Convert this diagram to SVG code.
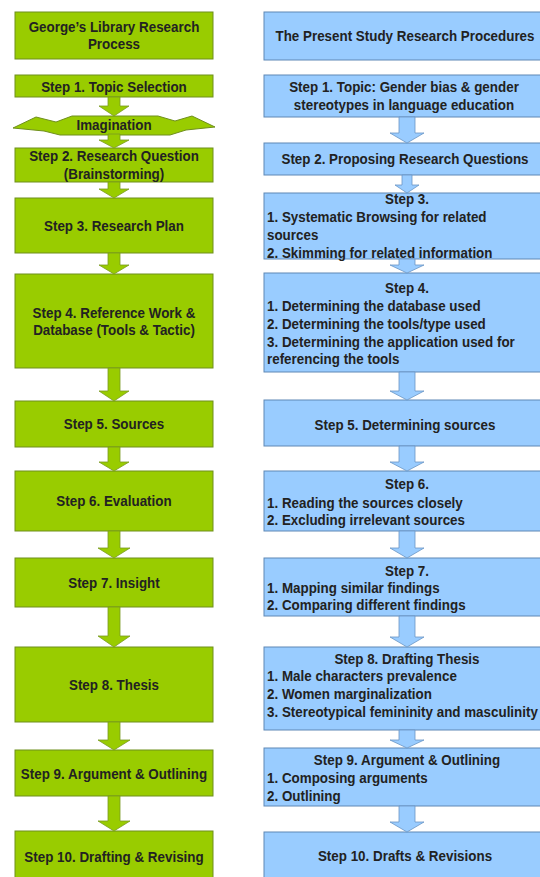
<svg xmlns="http://www.w3.org/2000/svg" width="540" height="877" viewBox="0 0 540 877">
<style>
.g{fill:#99cc00;stroke:#6f8f1c;stroke-width:1}
.b{fill:#99ccff;stroke:#5f88b5;stroke-width:1}
.ga{fill:#99cc00;stroke:#7a9a22;stroke-width:0.8}
.ba{fill:#99ccff;stroke:#6a95c4;stroke-width:0.8}
text{font-family:"Liberation Sans",Arial,sans-serif;font-weight:bold;font-size:13.4px;fill:#222;transform-box:fill-box;transform-origin:center;transform:scaleY(1.12)}
.c{text-anchor:middle}
</style>
<rect width="540" height="877" fill="#ffffff"/>
<g id="left-title"><rect class="g" x="15" y="12" width="198" height="47"/><text class="c" x="114" y="31">George’s Library Research</text><text class="c" x="114" y="48">Process</text></g>
<g id="left-step1"><rect class="g" x="15" y="75" width="198" height="22"/><text class="c" x="114" y="91">Step 1. Topic Selection</text></g>
<g id="imagination"><polygon class="g" points="13,128 36,117 56,122 72,116 158,116 175,121 192,116 215,127 186,130 170,135 60,135 44,131"/><text class="c" x="114" y="129">Imagination</text></g>
<g id="left-step2"><rect class="g" x="15" y="148" width="198" height="34"/><text class="c" x="114" y="160">Step 2. Research Question</text><text class="c" x="114" y="178">(Brainstorming)</text></g>
<g id="left-step3"><rect class="g" x="15" y="198" width="198" height="55"/><text class="c" x="114" y="230">Step 3. Research Plan</text></g>
<g id="left-step4"><rect class="g" x="15" y="274" width="198" height="94"/><text class="c" x="114" y="317">Step 4. Reference Work &amp;</text><text class="c" x="114" y="334">Database (Tools &amp; Tactic)</text></g>
<g id="left-step5"><rect class="g" x="15" y="401" width="198" height="46"/><text class="c" x="114" y="428">Step 5. Sources</text></g>
<g id="left-step6"><rect class="g" x="15" y="471" width="198" height="60"/><text class="c" x="114" y="505">Step 6. Evaluation</text></g>
<g id="left-step7"><rect class="g" x="15" y="558" width="198" height="49"/><text class="c" x="114" y="587">Step 7. Insight</text></g>
<g id="left-step8"><rect class="g" x="15" y="647" width="198" height="75"/><text class="c" x="114" y="689">Step 8. Thesis</text></g>
<g id="left-step9"><rect class="g" x="15" y="750" width="198" height="46"/><text class="c" x="114" y="778">Step 9. Argument &amp; Outlining</text></g>
<g id="left-step10"><rect class="g" x="15" y="831" width="198" height="56"/><text class="c" x="114" y="861">Step 10. Drafting &amp; Revising</text></g>

<g id="right-title"><rect class="b" x="264" y="12" width="290" height="48"/><text class="c" x="405" y="40">The Present Study Research Procedures</text></g>
<g id="right-step1"><rect class="b" x="264" y="75" width="290" height="42"/><text class="c" x="404" y="91">Step 1. Topic: Gender bias &amp; gender</text><text class="c" x="404" y="109">stereotypes in language education</text></g>
<g id="right-step2"><rect class="b" x="264" y="143" width="290" height="32"/><text class="c" x="405" y="163">Step 2. Proposing Research Questions</text></g>
<g id="right-step3"><rect class="b" x="264" y="193" width="290" height="66"/><text class="c" x="407" y="203">Step 3.</text><text x="267" y="221">1. Systematic Browsing for related</text><text x="267" y="239">sources</text><text x="267" y="257">2. Skimming for related information</text></g>
<g id="right-step4"><rect class="b" x="264" y="273" width="290" height="99"/><text class="c" x="407" y="292">Step 4.</text><text x="267" y="310">1. Determining the database used</text><text x="267" y="328">2. Determining the tools/type used</text><text x="267" y="346">3. Determining the application used for</text><text x="267" y="363">referencing the tools</text></g>
<g id="right-step5"><rect class="b" x="264" y="400" width="290" height="46"/><text class="c" x="405" y="429">Step 5. Determining sources</text></g>
<g id="right-step6"><rect class="b" x="264" y="471" width="290" height="60"/><text class="c" x="407" y="488">Step 6.</text><text x="267" y="507">1. Reading the sources closely</text><text x="267" y="524">2. Excluding irrelevant sources</text></g>
<g id="right-step7"><rect class="b" x="264" y="558" width="290" height="58"/><text class="c" x="407" y="575">Step 7.</text><text x="267" y="592">1. Mapping similar findings</text><text x="267" y="609">2. Comparing different findings</text></g>
<g id="right-step8"><rect class="b" x="264" y="647" width="290" height="83"/><text class="c" x="407" y="663">Step 8. Drafting Thesis</text><text x="267" y="680">1. Male characters prevalence</text><text x="267" y="698">2. Women marginalization</text><text x="267" y="716">3. Stereotypical femininity and masculinity</text></g>
<g id="right-step9"><rect class="b" x="264" y="748" width="290" height="58"/><text class="c" x="407" y="764">Step 9. Argument &amp; Outlining</text><text x="267" y="782">1. Composing arguments</text><text x="267" y="800">2. Outlining</text></g>
<g id="right-step10"><rect class="b" x="264" y="832" width="290" height="56"/><text class="c" x="405" y="860">Step 10. Drafts &amp; Revisions</text></g>

<g id="connectors">
<polygon class="ga" points="108,97 120,97 120,106 129,106 114,116 99,106 108,106"/>
<polygon class="ga" points="108,134 120,134 120,140 129,140 114,148 99,140 108,140"/>
<polygon class="ga" points="108,182 120,182 120,189 129,189 114,198 99,189 108,189"/>
<polygon class="ga" points="108,253 120,253 120,265 129,265 114,274 99,265 108,265"/>
<polygon class="ga" points="108,368 120,368 120,391 129,391 114,401 99,391 108,391"/>
<polygon class="ga" points="108,447 120,447 120,462 129,462 114,471 99,462 108,462"/>
<polygon class="ga" points="108,531 120,531 120,548 130,548 114,558 98,548 108,548"/>
<polygon class="ga" points="108,607 120,607 120,636 130,636 114,647 98,636 108,636"/>
<polygon class="ga" points="108,722 120,722 120,740 130,740 114,750 98,740 108,740"/>
<polygon class="ga" points="108,796 120,796 120,821 130,821 114,831 98,821 108,821"/>

<polygon class="ba" points="399,117 415,117 415,133 424,133 407,143 390,133 399,133"/>
<polygon class="ba" points="402,175 412,175 412,185 419,185 407,193 395,185 402,185"/>
<polygon class="ba" points="399,259 415,259 415,265 424,265 407,273 390,265 399,265"/>
<polygon class="ba" points="399,372 415,372 415,391 424,391 407,400 390,391 399,391"/>
<polygon class="ba" points="399,446 415,446 415,462 424,462 407,471 390,462 399,462"/>
<polygon class="ba" points="399,531 415,531 415,548 424,548 407,558 390,548 399,548"/>
<polygon class="ba" points="399,616 415,616 415,637 424,637 407,647 390,637 399,637"/>
<polygon class="ba" points="399,730 415,730 415,740 424,740 407,748 390,740 399,740"/>
<polygon class="ba" points="399,806 415,806 415,822 424,822 407,832 390,822 399,822"/>
</g>
</svg>
